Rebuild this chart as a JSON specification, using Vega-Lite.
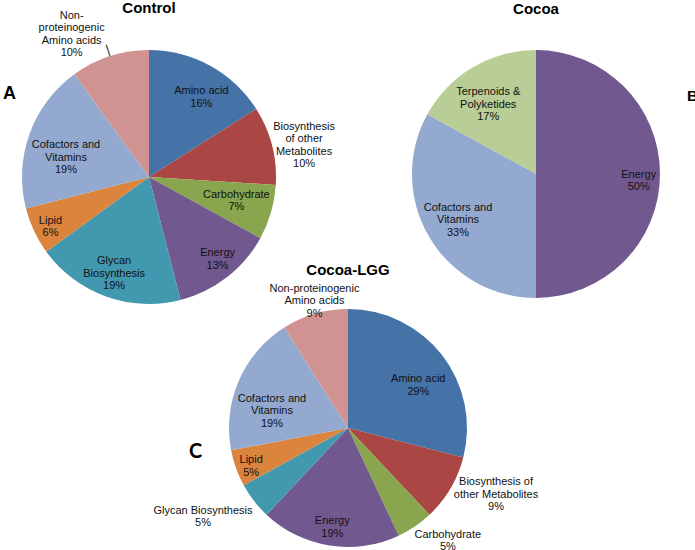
{
  "$schema": "https://vega.github.io/schema/vega-lite/v6.json",
  "background": "white",
  "padding": {"left": 3, "top": 0, "right": 0, "bottom": 0},
  "config": {
    "view": {"stroke": null},
    "title": {"font": "Liberation Sans", "fontSize": 15, "fontWeight": "bold", "color": "#000", "offset": 5, "anchor": "middle"},
    "text": {"font": "Liberation Sans", "fontSize": 11, "lineHeight": 12.5, "color": "#111", "baseline": "middle", "align": "center", "lineBreak": "\n"}
  },
  "datasets": {
    "control": [
      {"n": 1, "category": "Amino acid", "value": 16, "label": "Amino acid\n16%"},
      {"n": 2, "category": "Biosynthesis of other Metabolites", "value": 10, "label": "Biosynthesis\nof other\nMetabolites\n10%"},
      {"n": 3, "category": "Carbohydrate", "value": 7, "label": "Carbohydrate\n7%"},
      {"n": 4, "category": "Energy", "value": 13, "label": "Energy\n13%"},
      {"n": 5, "category": "Glycan Biosynthesis", "value": 19, "label": "Glycan\nBiosynthesis\n19%"},
      {"n": 6, "category": "Lipid", "value": 6, "label": "Lipid\n6%"},
      {"n": 7, "category": "Cofactors and Vitamins", "value": 19, "label": "Cofactors and\nVitamins\n19%"},
      {"n": 8, "category": "Non-proteinogenic Amino acids", "value": 10, "label": "Non-\nproteinogenic\nAmino acids\n10%"}
    ],
    "cocoa": [
      {"n": 1, "category": "Energy", "value": 50, "label": "Energy\n50%"},
      {"n": 2, "category": "Cofactors and Vitamins", "value": 33, "label": "Cofactors and\nVitamins\n33%"},
      {"n": 3, "category": "Terpenoids & Polyketides", "value": 17, "label": "Terpenoids &\nPolyketides\n17%"}
    ],
    "lgg": [
      {"n": 1, "category": "Amino acid", "value": 29, "label": "Amino acid\n29%"},
      {"n": 2, "category": "Biosynthesis of other Metabolites", "value": 9, "label": "Biosynthesis of\nother  Metabolites\n9%"},
      {"n": 3, "category": "Carbohydrate", "value": 5, "label": "Carbohydrate\n5%"},
      {"n": 4, "category": "Energy", "value": 19, "label": "Energy\n19%"},
      {"n": 5, "category": "Glycan Biosynthesis", "value": 5, "label": "Glycan Biosynthesis\n5%"},
      {"n": 6, "category": "Lipid", "value": 5, "label": "Lipid\n5%"},
      {"n": 7, "category": "Cofactors and Vitamins", "value": 19, "label": "Cofactors and\nVitamins\n19%"},
      {"n": 8, "category": "Non-proteinogenic Amino acids", "value": 9, "label": "Non-proteinogenic\nAmino acids\n9%"}
    ]
  },
  "bounds": "flush",
  "align": "each",
  "columns": 3,
  "spacing": {"row": 0, "column": 0},
  "concat": [
    {
      "title": {"text": "Control", "offset": -6},
      "width": 292,
      "height": 310,
      "layer": [
        {
          "data": {"name": "control"},
          "mark": {"type": "arc", "outerRadius": 127},
          "encoding": {
            "theta": {"field": "value", "type": "quantitative", "stack": true},
            "order": {"field": "n", "type": "quantitative"},
            "color": {"field": "category", "type": "nominal", "legend": null,
              "scale": {"domain": ["Amino acid", "Biosynthesis of other Metabolites", "Carbohydrate", "Energy", "Glycan Biosynthesis", "Lipid", "Cofactors and Vitamins", "Non-proteinogenic Amino acids", "Terpenoids & Polyketides"],
                        "range": ["#4572A7", "#AA4643", "#89A54E", "#71588F", "#4198AF", "#DB843D", "#93A9CF", "#D19392", "#B9CD96"]}}
          }
        },
        {
          "data": {"name": "control"},
          "mark": {"type": "text",
            "radius": {"expr": "({'Amino acid':95,'Biosynthesis of other Metabolites':158,'Carbohydrate':91,'Energy':107,'Glycan Biosynthesis':103,'Lipid':110,'Cofactors and Vitamins':84.5,'Non-proteinogenic Amino acids':150})[datum.category]"},
            "dx": {"expr": "({'Amino acid':6.6,'Biosynthesis of other Metabolites':2,'Carbohydrate':0,'Energy':3,'Glycan Biosynthesis':0,'Lipid':1,'Cofactors and Vitamins':-3.5,'Non-proteinogenic Amino acids':-31})[datum.category]"},
            "dy": {"expr": "({'Amino acid':3.7,'Biosynthesis of other Metabolites':8,'Carbohydrate':-1.5,'Energy':-2,'Glycan Biosynthesis':0,'Lipid':3,'Cofactors and Vitamins':9.6,'Non-proteinogenic Amino acids':0})[datum.category] - (length(split(datum.label, '\\n')) - 1) * 6.25"}
          },
          "encoding": {
            "theta": {"field": "value", "type": "quantitative", "stack": true},
            "order": {"field": "n", "type": "quantitative"},
            "detail": {"field": "category", "type": "nominal"},
            "text": {"field": "label", "type": "nominal"}
          }
        },
        {
          "data": {"name": "control"},
          "mark": {"type": "text", "radius": 133.5, "fontSize": 13, "color": "#333",
            "angle": {"expr": "(datum.value_start + datum.value_end) / 2 * 3.6"}},
          "encoding": {
            "theta": {"field": "value", "type": "quantitative", "stack": true},
            "order": {"field": "n", "type": "quantitative"},
            "detail": {"field": "category", "type": "nominal"},
            "text": {"condition": {"test": "datum.category === 'Non-proteinogenic Amino acids'", "value": "|"}, "value": ""}
          }
        },
        {
          "data": {"values": [{"letter": "A"}]},
          "mark": {"type": "text", "fontSize": 18, "fontWeight": "bold", "align": "left", "baseline": "alphabetic", "color": "#000"},
          "encoding": {
            "text": {"field": "letter", "type": "nominal"},
            "x": {"value": 0},
            "y": {"value": 76.5}
          }
        }
      ]
    },
    {
      "width": 106,
      "height": 1,
      "data": {"values": [{"blank": ""}]},
      "mark": {"type": "text"},
      "encoding": {"text": {"field": "blank", "type": "nominal"}}
    },
    {
      "title": {"text": "Cocoa", "offset": 5},
      "width": 270,
      "height": 304,
      "layer": [
        {
          "data": {"name": "cocoa"},
          "mark": {"type": "arc", "outerRadius": 124},
          "encoding": {
            "theta": {"field": "value", "type": "quantitative", "stack": true},
            "order": {"field": "n", "type": "quantitative"},
            "color": {"field": "category", "type": "nominal", "legend": null,
              "scale": {"domain": ["Amino acid", "Biosynthesis of other Metabolites", "Carbohydrate", "Energy", "Glycan Biosynthesis", "Lipid", "Cofactors and Vitamins", "Non-proteinogenic Amino acids", "Terpenoids & Polyketides"],
                        "range": ["#4572A7", "#AA4643", "#89A54E", "#71588F", "#4198AF", "#DB843D", "#93A9CF", "#D19392", "#B9CD96"]}}
          }
        },
        {
          "data": {"name": "cocoa"},
          "mark": {"type": "text",
            "radius": {"expr": "({'Energy':102.7,'Cofactors and Vitamins':90.6,'Terpenoids & Polyketides':84})[datum.category]"},
            "dx": {"expr": "({'Energy':0,'Cofactors and Vitamins':0,'Terpenoids & Polyketides':-5})[datum.category]"},
            "dy": {"expr": "({'Energy':7,'Cofactors and Vitamins':0,'Terpenoids & Polyketides':3})[datum.category] - (length(split(datum.label, '\\n')) - 1) * 6.25"}
          },
          "encoding": {
            "theta": {"field": "value", "type": "quantitative", "stack": true},
            "order": {"field": "n", "type": "quantitative"},
            "detail": {"field": "category", "type": "nominal"},
            "text": {"field": "label", "type": "nominal"}
          }
        },
        {
          "data": {"values": [{"letter": "B"}]},
          "mark": {"type": "text", "fontSize": 15.5, "fontWeight": "bold", "align": "left", "baseline": "alphabetic", "color": "#000"},
          "encoding": {
            "text": {"field": "letter", "type": "nominal"},
            "x": {"value": 286},
            "y": {"value": 79.3}
          }
        }
      ]
    },
    {
      "width": 292,
      "height": 1,
      "data": {"values": [{"blank": ""}]},
      "mark": {"type": "text"},
      "encoding": {"text": {"field": "blank", "type": "nominal"}}
    },
    {
      "title": {"text": "Cocoa-LGG", "offset": 5},
      "width": 106,
      "height": 192,
      "layer": [
        {
          "data": {"name": "lgg"},
          "mark": {"type": "arc", "outerRadius": 119},
          "encoding": {
            "theta": {"field": "value", "type": "quantitative", "stack": true},
            "order": {"field": "n", "type": "quantitative"},
            "color": {"field": "category", "type": "nominal", "legend": null,
              "scale": {"domain": ["Amino acid", "Biosynthesis of other Metabolites", "Carbohydrate", "Energy", "Glycan Biosynthesis", "Lipid", "Cofactors and Vitamins", "Non-proteinogenic Amino acids", "Terpenoids & Polyketides"],
                        "range": ["#4572A7", "#AA4643", "#89A54E", "#71588F", "#4198AF", "#DB843D", "#93A9CF", "#D19392", "#B9CD96"]}}
          }
        },
        {
          "data": {"name": "lgg"},
          "mark": {"type": "text",
            "radius": {"expr": "({'Amino acid':81.7,'Biosynthesis of other Metabolites':161.4,'Carbohydrate':149.7,'Energy':100.5,'Glycan Biosynthesis':169.1,'Lipid':104.2,'Cofactors and Vitamins':76.5,'Non-proteinogenic Amino acids':130.9})[datum.category]"},
            "dx": {"expr": "({'Amino acid':5.7,'Biosynthesis of other Metabolites':9.1,'Carbohydrate':15.7,'Energy':0,'Glycan Biosynthesis':-11.4,'Lipid':1.2,'Cofactors and Vitamins':-5.8,'Non-proteinogenic Amino acids':3})[datum.category]"},
            "dy": {"expr": "({'Amino acid':7.4,'Biosynthesis of other Metabolites':-15.4,'Carbohydrate':-10.6,'Energy':0,'Glycan Biosynthesis':-14.6,'Lipid':3.4,'Cofactors and Vitamins':13.5,'Non-proteinogenic Amino acids':-0.9})[datum.category] - (length(split(datum.label, '\\n')) - 1) * 6.25"}
          },
          "encoding": {
            "theta": {"field": "value", "type": "quantitative", "stack": true},
            "order": {"field": "n", "type": "quantitative"},
            "detail": {"field": "category", "type": "nominal"},
            "text": {"field": "label", "type": "nominal"}
          }
        },
        {
          "data": {"values": [{"letter": "C"}]},
          "mark": {"type": "text", "font": "Lato", "fontSize": 20, "fontWeight": "bold", "align": "left", "baseline": "alphabetic", "color": "#000"},
          "encoding": {
            "text": {"field": "letter", "type": "nominal"},
            "x": {"value": -106},
            "y": {"value": 126}
          }
        }
      ]
    }
  ]
}
